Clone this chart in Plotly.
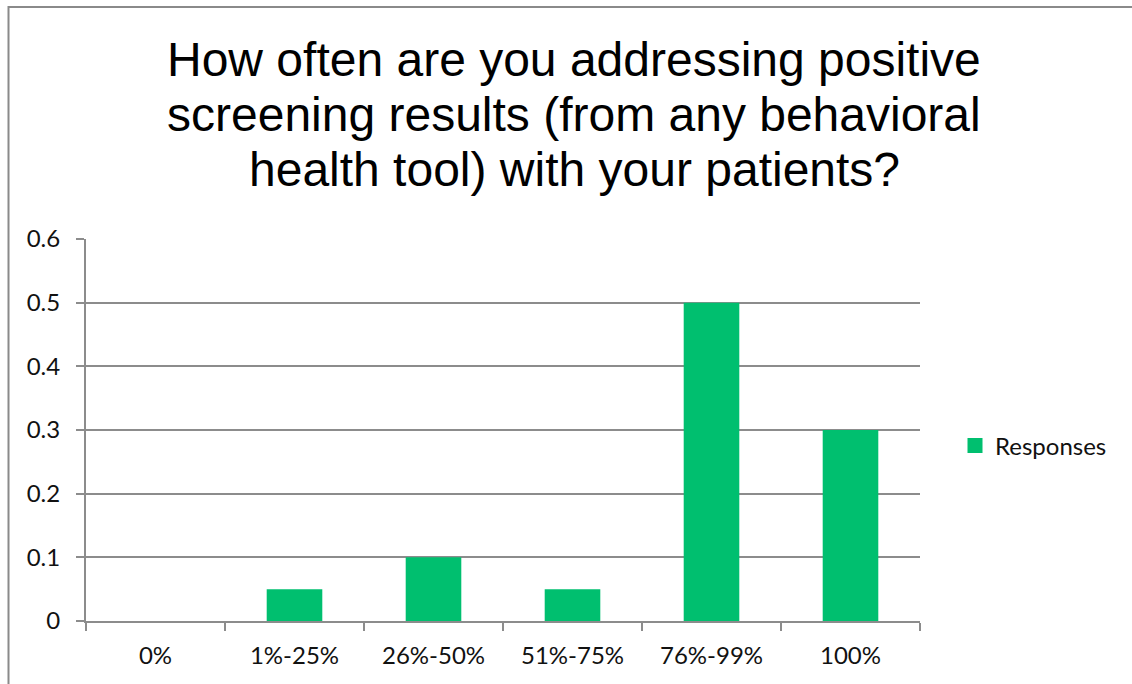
import plotly.graph_objects as go

categories = ["0%", "1%-25%", "26%-50%", "51%-75%", "76%-99%", "100%"]
responses = [0, 0.05, 0.1, 0.05, 0.5, 0.3]
y_ticks = [0, 0.1, 0.2, 0.3, 0.4, 0.5, 0.6]
y_tick_labels = ["0", "0.1", "0.2", "0.3", "0.4", "0.5", "0.6"]
title_lines = [
    "How often are you addressing positive",
    "screening results (from any behavioral",
    "health tool) with your patients?",
]

W, H = 1132, 684
L, R, T, B = 86, 212, 239, 63
pw, ph = W - L - R, H - T - B

GRID = "#8c8c8c"
BAR = "#00bf6f"
TICK_FONT = dict(family="Lato, 'Open Sans', sans-serif", size=24, color="#111111")
TITLE_FONT = dict(family="'Liberation Sans', Arial, sans-serif", size=48, color="#000000")


def px_x(p):
    return (p - L) / pw


def px_y(p):
    return (H - B - p) / ph


fig = go.Figure()
fig.add_trace(
    go.Bar(
        x=categories,
        y=responses,
        name="Responses",
        marker=dict(color=BAR, line=dict(width=0)),
        showlegend=False,
    )
)
# legend entry with a larger square swatch
fig.add_trace(
    go.Scatter(
        x=[None],
        y=[None],
        mode="markers",
        name="Responses",
        marker=dict(symbol="square", size=15, color=BAR),
        showlegend=True,
    )
)

# title lines, centred and spaced like the chart heading
title_annotations = [
    dict(
        text=line,
        xref="paper",
        yref="paper",
        x=px_x(574),
        y=px_y(60 + i * 54.5),
        xanchor="center",
        yanchor="middle",
        showarrow=False,
        font=TITLE_FONT,
    )
    for i, line in enumerate(title_lines)
]

fig.update_layout(
    width=W,
    height=H,
    margin=dict(l=L, r=R, t=T, b=B),
    paper_bgcolor="white",
    plot_bgcolor="white",
    bargap=0.6,
    annotations=title_annotations,
    showlegend=True,
    legend=dict(
        x=px_x(955),
        y=px_y(446),
        xanchor="left",
        yanchor="middle",
        font=TICK_FONT,
        bgcolor="rgba(0,0,0,0)",
        itemwidth=30,
    ),
    xaxis=dict(
        showline=True,
        linecolor=GRID,
        linewidth=2,
        ticks="outside",
        tickson="boundaries",
        ticklen=8,
        tickwidth=2,
        tickcolor=GRID,
        tickfont=TICK_FONT,
        ticklabelstandoff=12,
        showgrid=False,
        fixedrange=True,
    ),
    yaxis=dict(
        range=[0, 0.6],
        tickvals=y_ticks,
        ticktext=y_tick_labels,
        showline=True,
        linecolor=GRID,
        linewidth=2,
        ticks="outside",
        ticklen=8,
        tickwidth=2,
        tickcolor=GRID,
        showgrid=True,
        gridcolor=GRID,
        gridwidth=2,
        zeroline=False,
        tickfont=TICK_FONT,
        ticklabelstandoff=11,
        fixedrange=True,
    ),
    shapes=[
        dict(
            type="path",
            xref="paper",
            yref="paper",
            path=f"M {px_x(8.5)} {px_y(H + 10)} L {px_x(8.5)} {px_y(7)} L {px_x(W + 10)} {px_y(7)}",
            line=dict(color="#8a8a8a", width=2),
        )
    ],
)

fig.write_html("out.html")
